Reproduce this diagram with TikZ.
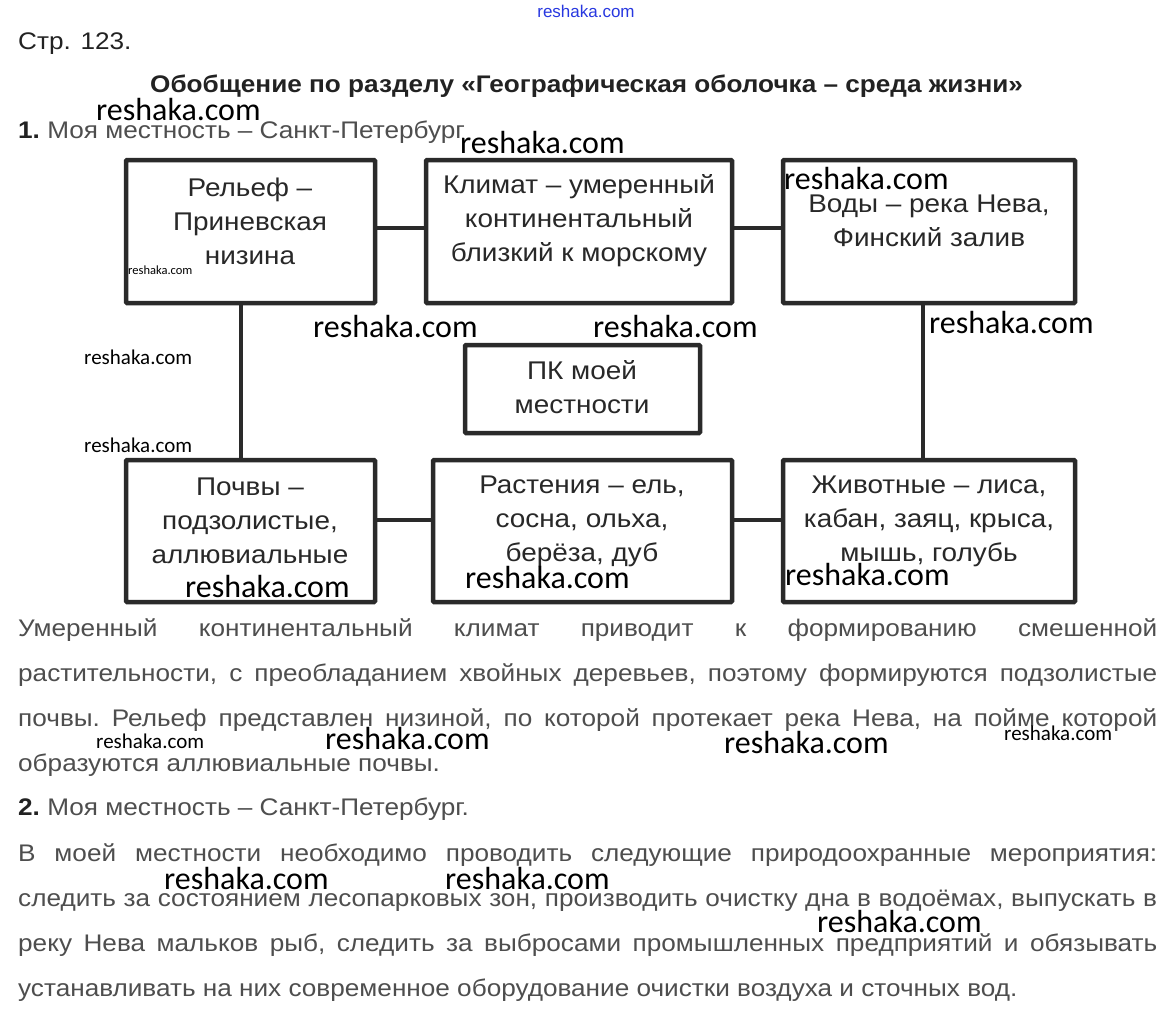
\documentclass[tikz,border=0pt]{standalone}
\usepackage{fontspec}
\setmainfont[FakeStretch=1.09]{Liberation Sans}
\newfontfamily\plainsans{Liberation Sans}
\newfontfamily\wmfont{Carlito}
\definecolor{boxc}{HTML}{2A2A2A}
\definecolor{boxtext}{HTML}{282828}
\definecolor{bodyc}{HTML}{4E4E4E}
\definecolor{headc}{HTML}{222222}
\definecolor{wmblue}{HTML}{2838E0}
\tikzset{
  boxnode/.style={draw=boxc, line width=4.5pt, rounded corners=1pt, inner sep=0pt},
  conn/.style={draw=boxc, line width=4.5pt},
  boxtxt/.style={align=center, text=boxtext, inner sep=0pt, font=\fontsize{25.6}{34}\selectfont},
  para/.style={anchor=base west, inner sep=0pt, text=bodyc, font=\frenchspacing\fontsize{24}{24}\selectfont},
  wm/.style={anchor=west, inner sep=0pt, text=black, font=\wmfont\fontsize{32}{32}\selectfont},
  wmm/.style={anchor=west, inner sep=0pt, text=black, font=\wmfont\fontsize{21}{21}\selectfont},
  wms/.style={anchor=west, inner sep=0pt, text=black, font=\wmfont\fontsize{12.5}{12.5}\selectfont},
}
\begin{document}
\begin{tikzpicture}[x=1pt,y=-1pt]
\useasboundingbox[fill=white] (0,0) rectangle (1172,1022);

% headings
\node[anchor=base west, inner sep=0pt, text=headc, font=\fontsize{24}{24}\selectfont] (str) at (18,50) {Стр. 123.};
\node[anchor=base west, inner sep=0pt, text=headc, font=\bfseries\fontsize{24}{24}\selectfont] (head) at (150,93) {Обобщение по разделу «Географическая оболочка – среда жизни»};
\node[para] (q1) at (18,139) {\textcolor{headc}{\bfseries 1.} Моя местность – Санкт-Петербург};

% boxes
\node[boxnode, minimum width=249pt, minimum height=143pt] (rel) at (250.5,231.5) {};
\node[boxnode, minimum width=306pt, minimum height=143pt] (klim) at (579,231.5) {};
\node[boxnode, minimum width=292pt, minimum height=143pt] (vody) at (929,231.5) {};
\node[boxnode, minimum width=235pt, minimum height=88pt] (pk) at (582.5,389) {};
\node[boxnode, minimum width=249pt, minimum height=142pt] (poch) at (250.5,531) {};
\node[boxnode, minimum width=299pt, minimum height=142pt] (rast) at (582.5,531) {};
\node[boxnode, minimum width=292pt, minimum height=142pt] (zhiv) at (929,531) {};

% connectors
\draw[conn] ([yshift=3.5pt]rel.east) -- ([yshift=3.5pt]klim.west);
\draw[conn] ([yshift=3.5pt]klim.east) -- ([yshift=3.5pt]vody.west);
\draw[conn, line width=4pt] ([xshift=-9.5pt]rel.south) -- ([xshift=-9.5pt]poch.north);
\draw[conn, line width=4pt] ([xshift=-6pt]vody.south) -- ([xshift=-6pt]zhiv.north);
\draw[conn] ([yshift=11pt]poch.east) -- ([yshift=11pt]rast.west);
\draw[conn] ([yshift=11pt]rast.east) -- ([yshift=11pt]zhiv.west);

% box texts
\node[boxtxt] (trel) at (250,221) {Рельеф –\\Приневская\\низина};
\node[boxtxt] (tklim) at (579,221) {Климат – умеренный\\континентальный\\близкий к морскому};
\node[boxtxt] (tvody) at (929,221) {Воды – река Нева,\\Финский залив};
\node[boxtxt] (tpk) at (582,387) {ПК моей\\местности};
\node[boxtxt] (tpoch) at (250,521) {Почвы –\\подзолистые,\\аллювиальные};
\node[boxtxt] (trast) at (582,521) {Растения – ель,\\сосна, ольха,\\берёза, дуб};
\node[boxtxt] (tzhiv) at (929,521) {Животные – лиса,\\кабан, заяц, крыса,\\мышь, голубь};

% paragraph 1
\node[para] (p1) at (18,636) {\makebox[1139pt][s]{Умеренный континентальный климат приводит к формированию смешенной}};
\node[para] (p2) at (18,681) {\makebox[1139pt][s]{растительности, с преобладанием хвойных деревьев, поэтому формируются подзолистые}};
\node[para] (p3) at (18,726) {\makebox[1139pt][s]{почвы. Рельеф представлен низиной, по которой протекает река Нева, на пойме которой}};
\node[para] (p4) at (18,771) {образуются аллювиальные почвы.};

\node[para] (q2) at (18,815) {\textcolor{headc}{\bfseries 2.} Моя местность – Санкт-Петербург.};

% paragraph 2
\node[para] (r1) at (18,861) {\makebox[1139pt][s]{В моей местности необходимо проводить следующие природоохранные мероприятия:}};
\node[para] (r2) at (18,906) {\makebox[1139pt][s]{следить за состоянием лесопарковых зон, производить очистку дна в водоёмах, выпускать в}};
\node[para] (r3) at (18,951) {\makebox[1139pt][s]{реку Нева мальков рыб, следить за выбросами промышленных предприятий и обязывать}};
\node[para] (r4) at (18,996) {устанавливать на них современное оборудование очистки воздуха и сточных вод.};

% watermarks
\node[anchor=center, inner sep=0pt, text=wmblue, font=\plainsans\fontsize{17}{17}\selectfont] (w0) at (586,11) {reshaka.com};
\node[wm] (w1) at (96,110) {reshaka.com};
\node[wm] (w2) at (460,143) {reshaka.com};
\node[wm] (w3) at (784,179) {reshaka.com};
\node[wms] (w4) at (128,270) {reshaka.com};
\node[wm] (w5) at (313,327) {reshaka.com};
\node[wm] (w6) at (593,327) {reshaka.com};
\node[wm] (w7) at (929,323) {reshaka.com};
\node[wmm] (w8) at (84,357) {reshaka.com};
\node[wmm] (w9) at (84,445) {reshaka.com};
\node[wm] (w10) at (185,587) {reshaka.com};
\node[wm] (w11) at (465,578) {reshaka.com};
\node[wm] (w12) at (785,575) {reshaka.com};
\node[wmm] (w13) at (96,741) {reshaka.com};
\node[wm] (w14) at (325,739) {reshaka.com};
\node[wm] (w15) at (724,743) {reshaka.com};
\node[wmm] (w16) at (1004,733) {reshaka.com};
\node[wm] (w17) at (164,879) {reshaka.com};
\node[wm] (w18) at (445,879) {reshaka.com};
\node[wm] (w19) at (817,922) {reshaka.com};
\end{tikzpicture}
\end{document}
